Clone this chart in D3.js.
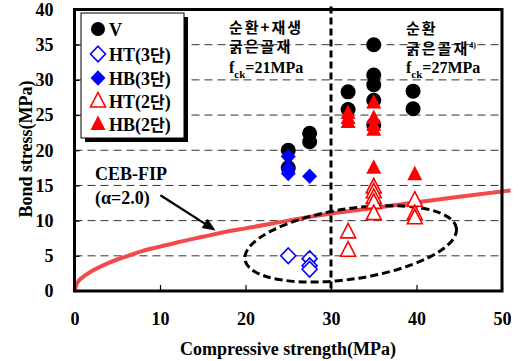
<!DOCTYPE html>
<html><head><meta charset="utf-8">
<script src="https://cdn.jsdelivr.net/npm/d3@7"></script>
<style>
body{margin:0;background:#fff}
svg{display:block}
text{font-family:"Liberation Serif","Times New Roman",serif;font-weight:bold;fill:#000}
.ko{font-family:"Noto Sans CJK KR","Noto Sans",sans-serif;font-weight:bold}
</style>
</head><body>
<svg id="c" width="519" height="361"></svg>
<script>
// ---- data ----
const xTicks = [0, 10, 20, 30, 40, 50];
const yTicks = [0, 5, 10, 15, 20, 25, 30, 35, 40];
const gridVals = [5, 10, 15, 20, 25, 30, 35];
const seriesNames = ["V", "HT(3단)", "HB(3단)", "HT(2단)", "HB(2단)"];
const V   = [[25,17.5],[25,20.0],[27.5,22.4],[27.5,21.2],[32,28.3],[32,25.8],[35,35.0],[35,30.7],[35,29.3],[35,27.1],[35,23.6],[39.6,28.4],[39.6,25.9]];
const HT3 = [[25,5.0],[27.5,4.6],[27.5,3.6],[27.5,3.1]];
const HB3 = [[25,19.1],[25,17.4],[25,16.7],[27.5,16.3]];
const HT2 = [[32,8.4],[32,5.8],[35,14.8],[35,14.1],[35,13.3],[35,12.6],[35,11.0],[39.8,12.9],[39.8,11.0],[39.8,10.4]];
const HB2 = [[32,25.3],[32,24.6],[32,24.0],[35,26.8],[35,24.6],[35,23.6],[35,22.9],[35,17.5],[39.8,16.6]];
const cebX = [0, 0.3, 1, 2, 4, 6, 8, 10, 12, 15, 18, 20, 25, 30, 35, 40, 45, 51];
const cebY = [0, 1.1, 2.0, 2.8, 4.0, 4.9, 5.7, 6.3, 6.9, 7.7, 8.5, 8.9, 10.0, 11.0, 11.8, 12.6, 13.4, 14.3];

// ---- chart ----
const svg = d3.select("#c");
const x = d3.scaleLinear([0, 50], [74.5, 502]);
const y = d3.scaleLinear([0, 40], [291, 9.5]);

// grid
svg.append("g").selectAll("line").data(gridVals).join("line")
  .attr("x1", x(0)).attr("x2", x(50))
  .attr("y1", d => y(d)).attr("y2", d => y(d))
  .attr("stroke", "#333").attr("stroke-width", 1).attr("stroke-dasharray", "8,5");

// axes
const xa = svg.append("g").attr("transform", `translate(0,${y(0)})`)
  .call(d3.axisBottom(x).tickValues(xTicks).tickSizeInner(-6).tickSizeOuter(0).tickPadding(21));
const ya = svg.append("g").attr("transform", `translate(${x(0)},0)`)
  .call(d3.axisLeft(y).tickValues(yTicks).tickSizeInner(-5).tickSizeOuter(0).tickPadding(21));
[xa, ya].forEach(a => {
  a.select(".domain").remove();
  a.selectAll("line").attr("stroke", "#000").attr("stroke-width", 1.2);
  a.selectAll("text").style("font-size", "18px").style("font-family", '"Liberation Serif",serif').style("font-weight", "bold").attr("fill", "#000");
});

// CEB-FIP curve
const ceb = cebX.map((v, i) => [v, cebY[i]]);
svg.append("path").datum(ceb)
  .attr("d", d3.line().x(d => x(d[0])).y(d => y(d[1])).curve(d3.curveMonotoneX))
  .attr("fill", "none").attr("stroke", "#f24a4a").attr("stroke-width", 4);

// dashed ellipse
const ecx = x(32.3), ecy = y(6.7), erx = x(12.5) - x(0), ery = y(0) - y(5);
svg.append("ellipse").attr("cx", ecx).attr("cy", ecy).attr("rx", erx).attr("ry", ery)
  .attr("transform", `rotate(-8.5,${ecx},${ecy})`)
  .attr("fill", "none").attr("stroke", "#000").attr("stroke-width", 3).attr("stroke-dasharray", "8,4");

// vertical divider at 30
svg.append("line").attr("x1", x(30)).attr("x2", x(30)).attr("y1", y(40) - 3).attr("y2", y(0))
  .attr("stroke", "#000").attr("stroke-width", 3).attr("stroke-dasharray", "7,4");

// markers
const dia = "M0,-7.8L7.5,0L0,7.8L-7.5,0Z";
const tri = "M0,-8.5L7.5,6L-7.5,6Z";
function pts(data, kind, fill, stroke) {
  const g = svg.append("g");
  const sel = g.selectAll("g").data(data).join("g")
    .attr("transform", d => `translate(${x(d[0])},${y(d[1])})`);
  if (kind === "c") sel.append("circle").attr("r", 7.5).attr("fill", fill);
  else sel.append("path").attr("d", kind === "d" ? dia : tri)
    .attr("fill", fill).attr("stroke", stroke).attr("stroke-width", stroke ? 1.6 : 0);
}
pts(V, "c", "#000");
pts(HT3, "d", "#fff", "#0000ff");
pts(HB3, "d", "#0000ff");
pts(HT2, "t", "#fff", "#ff0000");
pts(HB2, "t", "#ff0000");

// frame
svg.append("rect").attr("x", x(0)).attr("y", y(40)).attr("width", x(50) - x(0)).attr("height", y(0) - y(40))
  .attr("fill", "none").attr("stroke", "#000").attr("stroke-width", 3);

// legend
const lg = svg.append("g");
lg.append("rect").attr("x", 85).attr("y", 17).attr("width", 103).attr("height", 125).attr("fill", "#000");
lg.append("rect").attr("x", 81).attr("y", 13).attr("width", 103).attr("height", 125).attr("fill", "#fff").attr("stroke", "#000").attr("stroke-width", 1);
const legY = [29, 54, 78, 101, 124];
const legKinds = [["c","#000",null],["d","#fff","#0000ff"],["d","#0000ff",null],["t","#fff","#ff0000"],["t","#ff0000",null]];
seriesNames.forEach((n, i) => {
  const [k, f, s] = legKinds[i];
  const gg = lg.append("g").attr("transform", `translate(98,${legY[i]})`);
  if (k === "c") gg.append("circle").attr("r", 7).attr("fill", f);
  else gg.append("path").attr("d", k === "d" ? dia : tri).attr("fill", f).attr("stroke", s).attr("stroke-width", s ? 1.6 : 0);
  const t = lg.append("text").attr("x", 109).attr("y", legY[i] + 7).style("font-size", "18px");
  const m = n.match(/^(.*?)(단)(.*)$/);
  if (m) {
    t.append("tspan").text(m[1]);
    t.append("tspan").attr("class", "ko").style("font-size", "16px").text(m[2]);
    t.append("tspan").text(m[3]);
  } else t.text(n);
});

// annotations
function ann(tx, ty, s) {
  svg.append("text").attr("class", "ko").attr("x", tx).attr("y", ty).style("font-size", "15px").style("letter-spacing", "2px").text(s);
}
ann(229, 33, "순환+재생");
ann(229, 52, "굵은골재");
ann(406, 34, "순환");
const g4 = svg.append("text").attr("class", "ko").attr("x", 406).attr("y", 54).style("font-size", "15px").style("letter-spacing", "2px");
g4.append("tspan").text("굵은골재");
g4.append("tspan").attr("dy", -6).style("font-size", "8px").style("font-family", '"Liberation Serif",serif').style("letter-spacing", "0px").text("4)");
function fck(tx, val) {
  const t = svg.append("text").attr("x", tx).attr("y", 73).style("font-size", "16px");
  t.append("tspan").text("f");
  t.append("tspan").attr("dy", 5).style("font-size", "11px").text("ck");
  t.append("tspan").attr("dy", -5).text("=" + val + "MPa");
}
fck(229, 21);
fck(406, 27);

svg.append("text").attr("x", 95).attr("y", 180).style("font-size", "18px").text("CEB-FIP");
svg.append("text").attr("x", 95).attr("y", 204).style("font-size", "18px").text("(α=2.0)");

// arrow
const ax1 = x(10.05), ay1 = y(13.6), ax2 = x(16.5), ay2 = y(8.6);
const ang = Math.atan2(ay2 - ay1, ax2 - ax1);
svg.append("line").attr("x1", ax1).attr("y1", ay1).attr("x2", ax2 - 10 * Math.cos(ang)).attr("y2", ay2 - 10 * Math.sin(ang))
  .attr("stroke", "#000").attr("stroke-width", 2.2);
svg.append("path").attr("d", "M0,0L-13,-5.5L-13,5.5Z").attr("fill", "#000")
  .attr("transform", `translate(${ax2},${ay2}) rotate(${ang * 180 / Math.PI})`);

// axis titles
svg.append("text").attr("x", 288).attr("y", 355).attr("text-anchor", "middle").style("font-size", "18px").text("Compressive strength(MPa)");
svg.append("text").attr("transform", "translate(32,149) rotate(-90)").attr("text-anchor", "middle").style("font-size", "18px").text("Bond stress(MPa)");
</script>
</body></html>
